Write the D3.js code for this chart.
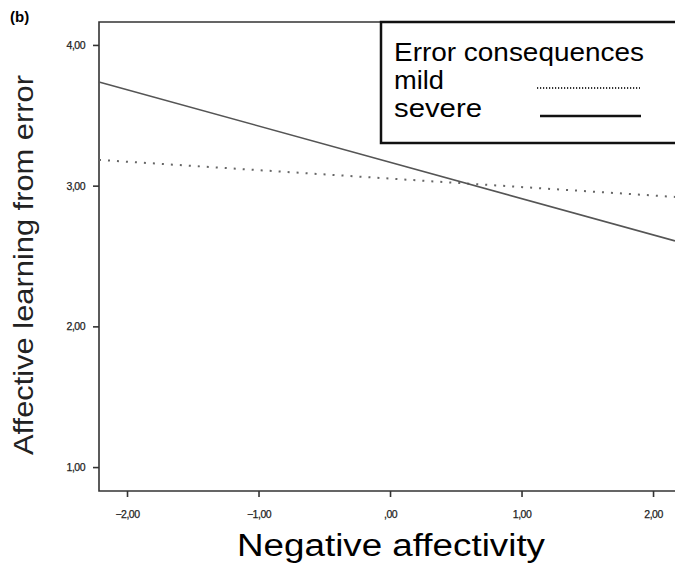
<!DOCTYPE html>
<html>
<head>
<meta charset="utf-8">
<title>Affective learning from error</title>
<script src="https://d3js.org/d3.v7.min.js"></script>
<style>
  body { margin: 0; background: #fff; }
  text { font-family: "Liberation Sans", Arial, sans-serif; }
</style>
</head>
<body>
<script>
var width = 675, height = 565;

// data
var xDomain = [-2.213, 2.167];
var yDomain = [0.83, 4.163];
var xTicks = [-2, -1, 0, 1, 2];
var yTicks = [1, 2, 3, 4];
var seriesNames = ['mild', 'severe'];
var mildValues = [[-2.213, 3.183], [2.167, 2.92]];
var severeValues = [[-2.213, 3.737], [2.167, 2.607]];

var plotLeft = 99, plotRight = 675, plotTop = 22, plotBottom = 491;

var fmt = function(d) {
  var s = Math.abs(d).toFixed(2).replace('.', ',');
  if (s.charAt(0) === '0') s = s.slice(1);
  return (d < 0 ? '\u2212' : '') + s;
};

var x = d3.scaleLinear().domain(xDomain).range([plotLeft, plotRight]);
var y = d3.scaleLinear().domain(yDomain).range([plotBottom, plotTop]);

var svg = d3.select('body').append('svg')
  .attr('width', width)
  .attr('height', height);

// frame: top, left and bottom (right edge falls outside the picture)
svg.append('path')
  .attr('d', 'M' + plotRight + ',' + plotTop + 'H' + plotLeft + 'V' + plotBottom + 'H' + plotRight)
  .attr('fill', 'none').attr('stroke', '#333').attr('stroke-width', 1.6);

// axes
var xAxis = svg.append('g')
  .attr('transform', 'translate(0,' + plotBottom + ')')
  .call(d3.axisBottom(x).tickValues(xTicks).tickSize(6).tickPadding(14).tickFormat(fmt));
var yAxis = svg.append('g')
  .attr('transform', 'translate(' + plotLeft + ',0)')
  .call(d3.axisLeft(y).tickValues(yTicks).tickSize(6).tickPadding(8).tickFormat(fmt));

[xAxis, yAxis].forEach(function(a) {
  a.select('.domain').remove();
  a.selectAll('line').attr('stroke', '#333').attr('stroke-width', 1.6);
  a.selectAll('text')
    .attr('font-family', '"Liberation Sans", Arial, sans-serif')
    .attr('font-size', '10.5px')
    .attr('fill', '#222')
    .attr('stroke', '#222')
    .attr('stroke-width', 0.25)
    .attr('letter-spacing', '-0.5px');
});

// lines
var line = d3.line()
  .x(function(d) { return x(d[0]); })
  .y(function(d) { return y(d[1]); });

svg.append('path')
  .datum(mildValues)
  .attr('d', line)
  .attr('fill', 'none')
  .attr('stroke', '#666')
  .attr('stroke-width', 2)
  .attr('stroke-dasharray', '2,7');

svg.append('path')
  .datum(severeValues)
  .attr('d', line)
  .attr('fill', 'none')
  .attr('stroke', '#555')
  .attr('stroke-width', 1.6);

// legend
var lg = svg.append('g');
lg.append('rect')
  .attr('x', 381).attr('y', 22)
  .attr('width', 296).attr('height', 121)
  .attr('fill', '#fff').attr('stroke', '#111').attr('stroke-width', 2.5);
lg.append('text')
  .attr('x', 394).attr('y', 61)
  .attr('font-size', '26px')
  .attr('textLength', 250)
  .attr('lengthAdjust', 'spacingAndGlyphs')
  .text('Error consequences');
var legendY = [89, 117];
var legendLen = [50, 88];
lg.selectAll('.item')
  .data(seriesNames)
  .enter().append('text')
  .attr('x', 394)
  .attr('y', function(d, i) { return legendY[i]; })
  .attr('font-size', '26px')
  .attr('textLength', function(d, i) { return legendLen[i]; })
  .attr('lengthAdjust', 'spacingAndGlyphs')
  .text(function(d) { return d; });
lg.append('line')
  .attr('x1', 537).attr('x2', 640).attr('y1', 88).attr('y2', 88)
  .attr('stroke', '#333').attr('stroke-width', 2).attr('stroke-dasharray', '1.2,1.8');
lg.append('line')
  .attr('x1', 540).attr('x2', 641).attr('y1', 116).attr('y2', 116)
  .attr('stroke', '#111').attr('stroke-width', 2.5);

// titles
svg.append('text')
  .attr('x', 391).attr('y', 556)
  .attr('text-anchor', 'middle')
  .attr('font-size', '31px')
  .attr('textLength', 308)
  .attr('lengthAdjust', 'spacingAndGlyphs')
  .text('Negative affectivity');

svg.append('text')
  .attr('transform', 'translate(33,265) rotate(-90)')
  .attr('text-anchor', 'middle')
  .attr('font-size', '28px')
  .attr('fill', '#222')
  .attr('textLength', 380)
  .attr('lengthAdjust', 'spacingAndGlyphs')
  .text('Affective learning from error');

svg.append('text')
  .attr('x', 10).attr('y', 22)
  .attr('font-size', '15px')
  .attr('font-weight', 'bold')
  .text('(b)');
</script>
</body>
</html>
